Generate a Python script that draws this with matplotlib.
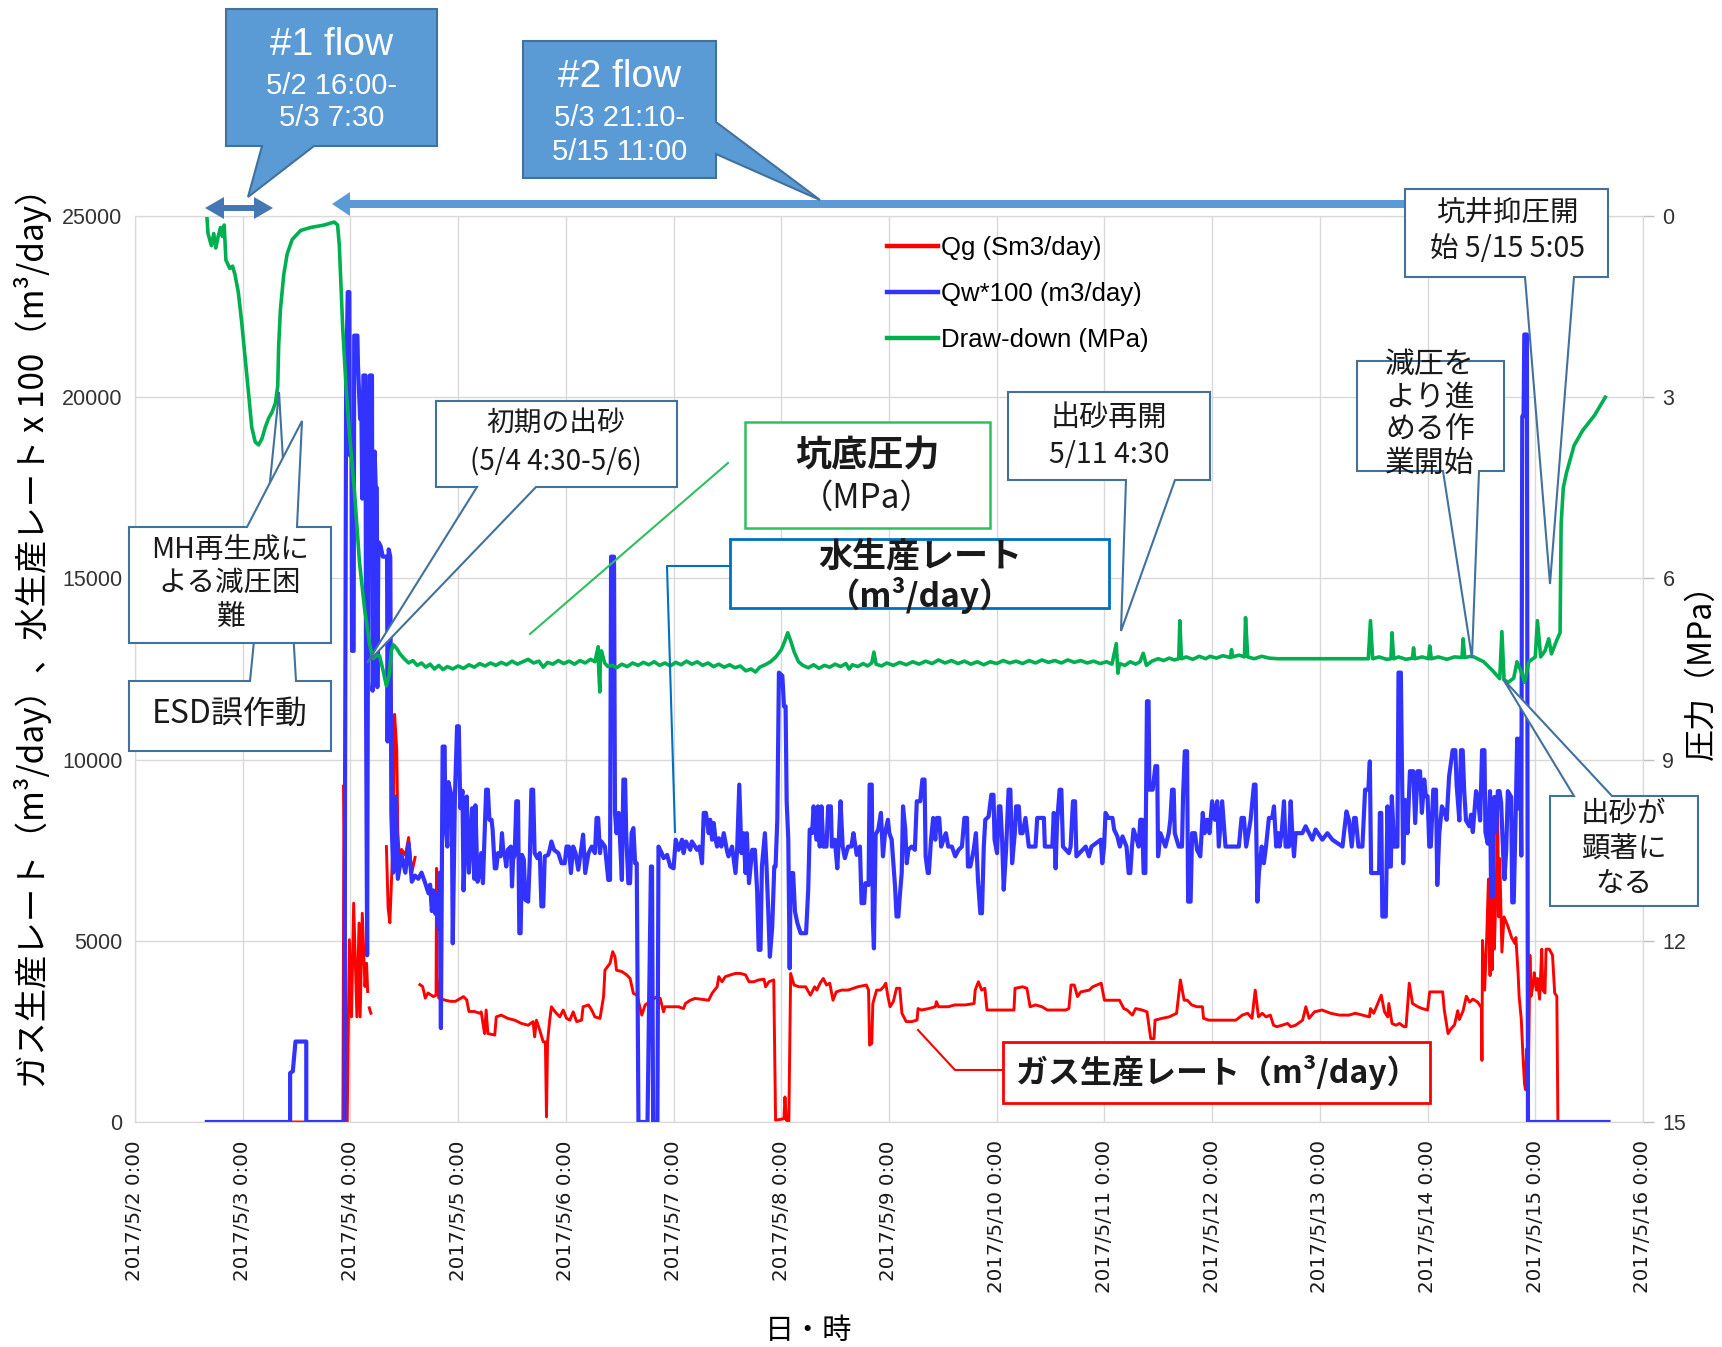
import numpy as np
import pandas as pd
import matplotlib
matplotlib.use('Agg')
import matplotlib.pyplot as plt
import matplotlib.dates as mdates
from matplotlib.patches import Polygon
from matplotlib.lines import Line2D
from matplotlib.font_manager import FontProperties

W, H = 1722, 1347
JP = ['Noto Sans CJK JP', 'DejaVu Sans']
LAT = ['Liberation Sans', 'DejaVu Sans']
plt.rcParams['font.family'] = ['Liberation Sans', 'Noto Sans CJK JP', 'DejaVu Sans']
nan = np.nan

start = pd.Timestamp('2017-05-02')

# (elapsed days from 2017/5/2 0:00, value); nan marks missing records
qg_pts = [
    (0.667, 0), (1.93, 0), (1.94, 9300), (1.95, 6500), (1.96, 0), (1.97, 0), (1.99, 5030),
    (2.01, 2900), (2.03, 6040), (2.06, 2900), (2.08, 5490), (2.09, 2900), (2.11, 5760),
    (2.135, 3740), (2.15, 4380), (2.16, 3600), (2.165, nan),
    (2.175, 3150), (2.19, 3000), (2.195, nan),
    (2.334, 7600), (2.35, 5900), (2.366, 5500), (2.38, 6550), (2.397, 7850), (2.41, 11250),
    (2.43, 10270), (2.44, 8000), (2.46, 7040), (2.475, 7520), (2.51, 7360), (2.54, 7850),
    (2.55, 7520), (2.57, 6880), (2.60, 7300), (2.61, nan),
    (2.645, 3790), (2.67, 3740), (2.695, 3420), (2.72, 3560), (2.77, 3460), (2.795, 3500),
    (2.80, 7000), (2.805, 4000), (2.82, 3420), (2.87, 3370), (2.925, 3330), (2.975, 3330),
    (3.05, 3460), (3.08, 3370), (3.10, 3050), (3.15, 3050), (3.20, 3000),
    (3.214, 3040), (3.245, 2440), (3.26, 3090), (3.276, 2440), (3.34, 2400), (3.354, 2900),
    (3.40, 2950), (3.46, 2860), (3.525, 2810), (3.587, 2720), (3.65, 2670), (3.696, 2770),
    (3.71, 2350), (3.727, 2810), (3.758, 2530), (3.79, 2210), (3.81, 2210), (3.82, 140),
    (3.83, 2210), (3.85, 2810), (3.866, 3180), (3.90, 3040), (3.944, 2900), (3.975, 3090),
    (4.006, 2860), (4.037, 2810), (4.068, 3040), (4.10, 2770), (4.146, 2810), (4.16, 3180),
    (4.21, 3230), (4.24, 3090), (4.27, 2900), (4.317, 2860), (4.35, 3460), (4.363, 4190),
    (4.41, 4380), (4.435, 4700), (4.456, 4560), (4.47, 4190), (4.52, 4150), (4.565, 4060),
    (4.596, 3960), (4.627, 3550), (4.66, 3500), (4.705, 2950), (4.736, 3230), (4.80, 3360),
    (4.845, 3460), (4.876, 3410), (4.907, 3040), (4.92, 3180), (5.047, 3180), (5.093, 3130),
    (5.11, 3270), (5.155, 3360), (5.20, 3410), (5.326, 3360), (5.357, 3550), (5.404, 3730),
    (5.42, 4010), (5.45, 3870), (5.48, 4010), (5.53, 4060), (5.575, 4100), (5.62, 4100),
    (5.668, 4060), (5.70, 3870), (5.745, 3870), (5.79, 3920), (5.84, 3940), (5.854, 3730),
    (5.885, 3870), (5.93, 3920), (5.947, 50), (6.025, 90), (6.034, 690), (6.047, 50),
    (6.07, 0), (6.087, 4100), (6.118, 3780), (6.165, 3730), (6.227, 3730), (6.27, 3500),
    (6.31, 3730), (6.33, 3640), (6.36, 3830), (6.39, 3960), (6.42, 3780), (6.45, 3830),
    (6.48, 3360), (6.51, 3590), (6.56, 3640), (6.62, 3640), (6.71, 3730), (6.79, 3780),
    (6.81, 3640), (6.82, 2120), (6.84, 2170), (6.85, 3270), (6.885, 3640), (6.92, 3640),
    (6.95, 3730), (6.97, 3830), (6.99, 3460), (7.01, 3180), (7.04, 3320), (7.07, 3690),
    (7.10, 3690), (7.12, 3000), (7.16, 2770), (7.21, 2770), (7.26, 2810), (7.27, 3130),
    (7.30, 3090), (7.37, 3130), (7.43, 3180), (7.44, 3320), (7.46, 3180), (7.55, 3180),
    (7.61, 3230), (7.71, 3230), (7.79, 3270), (7.80, 3640), (7.83, 3870), (7.86, 3640),
    (7.89, 3690), (7.91, 3090), (7.96, 3090), (8.05, 3090), (8.16, 3090), (8.17, 3690),
    (8.24, 3730), (8.28, 3690), (8.31, 3180), (8.36, 3230), (8.42, 3180), (8.47, 3090),
    (8.55, 3090), (8.64, 3090), (8.67, 3130), (8.69, 3780), (8.72, 3780), (8.75, 3460),
    (8.78, 3590), (8.86, 3640), (8.89, 3730), (8.93, 3780), (8.97, 3830), (9.00, 3360),
    (9.07, 3360), (9.14, 3360), (9.18, 3130), (9.21, 3090),
    (9.26, 2950), (9.29, 3130), (9.35, 3090), (9.395, 3040), (9.41, 2720), (9.43, 2300),
    (9.46, 2300), (9.47, 2810), (9.535, 2860), (9.60, 2900), (9.67, 3000), (9.705, 3920),
    (9.74, 3360), (9.77, 3360), (9.81, 3230), (9.86, 3180), (9.91, 3180), (9.92, 2860),
    (9.97, 2810), (10.06, 2810), (10.22, 2810), (10.28, 2950), (10.33, 3000), (10.37, 2860),
    (10.40, 3640), (10.43, 2900), (10.465, 3000), (10.50, 2900), (10.54, 2950), (10.57, 2670),
    (10.60, 2630), (10.65, 2670), (10.70, 2720), (10.73, 2630), (10.775, 2670), (10.84, 2810),
    (10.87, 3180), (10.90, 2860), (10.95, 3040), (11.02, 3090), (11.10, 3000), (11.18, 2950),
    (11.27, 2950), (11.33, 3000), (11.395, 2950), (11.46, 2900), (11.47, 3130), (11.50, 3000),
    (11.57, 3500), (11.60, 3040), (11.63, 2900), (11.64, 3270), (11.67, 2720), (11.705, 2670),
    (11.74, 2720), (11.78, 2630), (11.80, 2630), (11.83, 3830), (11.86, 3270), (11.91, 3180),
    (11.95, 3130), (12.0, 3090), (12.02, 3590), (12.08, 3590), (12.14, 3590), (12.155, 3090),
    (12.19, 2440), (12.22, 2580),
    (12.25, 2680), (12.28, 3070), (12.295, 2830), (12.33, 3070), (12.36, 3470), (12.39, 3310),
    (12.42, 3390), (12.465, 3310), (12.50, 3150), (12.505, 1700), (12.51, 5010), (12.53, 3640),
    (12.55, 5170), (12.565, 6700), (12.58, 4040), (12.59, 8800), (12.60, 4200), (12.61, 6540),
    (12.62, 4770), (12.64, 6870), (12.65, 8730), (12.66, 5660), (12.67, 7270), (12.69, 4690),
    (12.71, 5660), (12.745, 5410), (12.78, 5090), (12.81, 4930), (12.82, 5090), (12.84, 4120),
    (12.85, 3470), (12.87, 2830), (12.885, 1860), (12.90, 1050), (12.91, 890), (12.92, 2020),
    (12.935, 890), (12.95, 4600), (12.96, 3470), (12.98, 3800), (12.99, 4120), (13.01, 3640),
    (13.02, 3960), (13.04, 3390), (13.06, 4770), (13.07, 3640), (13.09, 3560), (13.10, 4770),
    (13.13, 4770), (13.16, 4600), (13.18, 3560), (13.20, 3470), (13.21, 0),
]

qw_pts = [
    (0.667, 0), (1.44, 0), (1.44, 1350), (1.465, 1400), (1.49, 2220), (1.59, 2220), (1.59, 0),
    (1.945, 0), (1.95, 9000), (1.96, 20300), (1.975, 22900), (1.99, 22900), (1.995, 18400),
    (2.01, 18400), (2.015, 13000), (2.03, 13000), (2.035, 21700), (2.065, 21700), (2.07, 20900),
    (2.09, 19400), (2.10, 20100), (2.11, 17200), (2.12, 20600), (2.14, 20600), (2.145, 11700),
    (2.155, 4600), (2.165, 16100), (2.18, 20600), (2.20, 20600), (2.205, 11900), (2.215, 12400),
    (2.225, 18500), (2.235, 17500), (2.245, 17500), (2.25, 12000), (2.26, 16000), (2.28, 15900),
    (2.30, 15600), (2.34, 15600), (2.345, 10500), (2.355, 15800), (2.37, 15600), (2.38, 8500),
    (2.397, 6880), (2.42, 8980), (2.44, 6710), (2.475, 7360), (2.51, 6880), (2.54, 7690),
    (2.57, 6630), (2.60, 6800), (2.63, 6710), (2.66, 6880), (2.69, 6630), (2.725, 6310),
    (2.74, 6550), (2.756, 5820), (2.77, 6390), (2.79, 5740), (2.80, 6310), (2.82, 5340),
    (2.83, 6880), (2.84, 2590), (2.856, 10360), (2.875, 10360), (2.88, 8330), (2.90, 7600),
    (2.91, 9380), (2.94, 8980), (2.95, 4930), (2.97, 8980), (2.99, 10920), (3.006, 10920),
    (3.02, 8660), (3.04, 9140), (3.05, 6390), (3.07, 8010), (3.08, 8980), (3.10, 6880),
    (3.13, 8660), (3.15, 6710), (3.16, 8740), (3.18, 6630), (3.20, 6880),
    (3.214, 7420), (3.23, 6590), (3.26, 9170), (3.276, 9170), (3.29, 8340), (3.31, 8340),
    (3.32, 8070), (3.34, 7000), (3.354, 7000), (3.37, 7420), (3.394, 7330), (3.407, 7970),
    (3.42, 7420), (3.43, 7420), (3.447, 7050), (3.46, 7510), (3.49, 7600), (3.50, 6500),
    (3.51, 7240), (3.525, 7370), (3.54, 8850), (3.556, 8850), (3.568, 5210), (3.58, 5210),
    (3.593, 7370), (3.61, 7240), (3.624, 6130), (3.65, 6080), (3.665, 7240), (3.68, 9170),
    (3.696, 9170), (3.71, 7420), (3.736, 7280), (3.758, 7420), (3.773, 5950), (3.79, 5950),
    (3.804, 7330), (3.835, 7370), (3.85, 7510), (3.866, 7740), (3.89, 7510), (3.93, 7420),
    (3.96, 7140), (3.99, 7140), (4.006, 7600), (4.028, 7600), (4.047, 6870), (4.068, 7600),
    (4.09, 7420), (4.115, 6960), (4.146, 7600), (4.16, 7930), (4.18, 6870), (4.21, 7420),
    (4.24, 7600), (4.27, 7420), (4.285, 8390), (4.30, 8390), (4.317, 7420), (4.33, 7740),
    (4.363, 7600), (4.394, 6680), (4.41, 6680), (4.42, 15600), (4.447, 15600), (4.456, 8530),
    (4.47, 7970), (4.49, 8530), (4.50, 7970), (4.52, 6680), (4.534, 9450), (4.55, 9450),
    (4.56, 7970), (4.58, 6590), (4.596, 6590), (4.61, 7970), (4.627, 8110), (4.643, 7140),
    (4.658, 7140), (4.674, 0), (4.758, 0), (4.79, 7050), (4.80, 7050), (4.81, 0), (4.85, 0),
    (4.86, 7600), (4.89, 7420), (4.907, 7280), (4.94, 7370), (4.97, 7050), (5.0, 7000),
    (5.02, 7790), (5.047, 7510), (5.078, 7790), (5.093, 7420), (5.115, 7740), (5.14, 7600),
    (5.155, 7510), (5.17, 7740), (5.20, 7600), (5.217, 7510), (5.24, 7600), (5.264, 7140),
    (5.28, 8530), (5.30, 8530), (5.326, 7970), (5.34, 8340), (5.357, 7790), (5.373, 8250),
    (5.39, 7790), (5.404, 7600), (5.42, 7830), (5.444, 7600), (5.466, 7970), (5.497, 7470),
    (5.51, 7330), (5.543, 7600), (5.575, 6870), (5.59, 7510), (5.61, 9310), (5.63, 7420),
    (5.65, 7970), (5.668, 6870), (5.68, 7970), (5.70, 6590), (5.73, 7510), (5.755, 7510),
    (5.776, 6360), (5.79, 4750), (5.807, 4750), (5.82, 7050), (5.848, 7970), (5.863, 7050),
    (5.88, 5760), (5.894, 4560), (5.916, 5390), (5.935, 7050), (5.947, 7050), (5.963, 8340),
    (5.978, 12400), (6.01, 12310), (6.025, 11470), (6.04, 11470), (6.05, 8850), (6.065, 7790),
    (6.078, 4240), (6.087, 6870), (6.11, 6870), (6.127, 5810), (6.15, 5480), (6.18, 5210),
    (6.23, 5210), (6.25, 6410), (6.264, 8070), (6.286, 7970), (6.30, 8710), (6.326, 7790),
    (6.34, 8710), (6.357, 7600), (6.373, 8710), (6.39, 7600), (6.42, 7600), (6.435, 8710),
    (6.46, 8710), (6.47, 7600), (6.497, 7790), (6.52, 7000), (6.534, 7790), (6.55, 8850),
    (6.57, 7600), (6.59, 7280), (6.62, 7600), (6.65, 7600), (6.67, 7970), (6.70, 7370),
    (6.73, 7600), (6.745, 6040), (6.77, 6040), (6.78, 6590), (6.81, 6540), (6.82, 9310),
    (6.84, 9310), (6.85, 5580), (6.86, 4790), (6.876, 7930), (6.90, 8070), (6.925, 8530),
    (6.944, 7330), (6.963, 7970), (6.99, 8340), (7.003, 7970), (7.025, 7790), (7.056, 6500),
    (7.07, 5670), (7.087, 5670), (7.10, 6220), (7.118, 6870), (7.13, 8710), (7.15, 8110),
    (7.165, 7140), (7.18, 7510), (7.21, 7600), (7.24, 7510), (7.258, 8850), (7.29, 8850),
    (7.31, 9450), (7.33, 9450), (7.34, 7330), (7.36, 6870), (7.37, 6870), (7.39, 7790),
    (7.41, 8390), (7.43, 7790), (7.444, 8390), (7.466, 8390), (7.484, 7600), (7.506, 7790),
    (7.528, 7970), (7.55, 7600), (7.584, 7600), (7.615, 7330), (7.646, 7510), (7.677, 7600),
    (7.70, 8390), (7.724, 8390), (7.733, 7050), (7.755, 7050), (7.786, 7510), (7.807, 7970),
    (7.826, 6680), (7.848, 5760), (7.863, 5760), (7.88, 7600), (7.894, 8340), (7.925, 8430),
    (7.95, 9030), (7.97, 9030), (7.98, 7790), (8.003, 7420), (8.02, 8710), (8.034, 8710),
    (8.05, 7790), (8.065, 6410), (8.087, 7510), (8.11, 9170), (8.127, 9170), (8.143, 7140),
    (8.168, 7970), (8.18, 8710), (8.205, 8710), (8.22, 7970), (8.24, 7970), (8.267, 8390),
    (8.298, 7600), (8.36, 7600), (8.376, 8390), (8.438, 8390), (8.447, 7600), (8.516, 7600),
    (8.53, 8530), (8.547, 7000), (8.56, 8250), (8.584, 9170), (8.60, 9170), (8.615, 7600),
    (8.67, 7420), (8.686, 7600), (8.708, 8850), (8.727, 8850), (8.74, 7330), (8.826, 7600),
    (8.857, 7330), (8.88, 7600), (8.966, 7790), (8.98, 7140), (8.997, 7600), (9.01, 8530),
    (9.037, 8390), (9.075, 8390), (9.09, 8070), (9.12, 7880), (9.143, 7600), (9.168, 7880),
    (9.205, 7600), (9.225, 6870), (9.24, 6870), (9.256, 7600), (9.27, 8070), (9.30, 7790),
    (9.318, 7600), (9.333, 8340), (9.35, 8340), (9.364, 6870), (9.38, 6870), (9.395, 11610),
    (9.41, 11610), (9.417, 9170), (9.448, 9170), (9.473, 9820), (9.49, 9820), (9.498, 7330),
    (9.52, 7970), (9.566, 7600), (9.597, 7970), (9.612, 8340), (9.628, 9170), (9.643, 9170),
    (9.653, 7970), (9.69, 7600), (9.72, 7600), (9.73, 8990), (9.746, 10230), (9.767, 10230),
    (9.777, 6080), (9.80, 6080), (9.814, 7970), (9.84, 7970), (9.86, 7510), (9.89, 7330),
    (9.913, 8530), (9.93, 7970), (9.953, 8340), (9.975, 7970), (10.0, 8850), (10.025, 8340),
    (10.047, 8850), (10.062, 7600), (10.093, 8850), (10.124, 7600), (10.248, 7600),
    (10.273, 8390), (10.295, 8390), (10.316, 7600), (10.357, 8340), (10.388, 9310),
    (10.403, 9310), (10.42, 6080), (10.434, 6870), (10.46, 7600), (10.48, 7140), (10.50, 7600),
    (10.527, 8390), (10.558, 8390), (10.574, 8710), (10.595, 7600), (10.614, 7970),
    (10.626, 7600), (10.645, 7970), (10.667, 8850), (10.682, 7600), (10.713, 7600),
    (10.729, 8850), (10.744, 7970), (10.76, 7330), (10.775, 7970), (10.837, 7970),
    (10.868, 8160), (10.90, 7970), (10.93, 7790), (10.96, 8070), (11.023, 7790), (11.07, 7970),
    (11.116, 7790), (11.21, 7600), (11.247, 8570), (11.27, 8340), (11.296, 7600),
    (11.318, 8390), (11.333, 8390), (11.358, 7600), (11.395, 7600), (11.42, 9170),
    (11.45, 9170), (11.464, 9950), (11.476, 6870), (11.55, 6870), (11.557, 8530),
    (11.57, 8530), (11.58, 5670), (11.612, 5670), (11.628, 8710), (11.643, 7050),
    (11.659, 7050), (11.668, 8990), (11.69, 7600), (11.72, 7600), (11.73, 12400),
    (11.752, 12400), (11.76, 10280), (11.774, 7140), (11.79, 8890), (11.814, 7970),
    (11.836, 9680), (11.867, 9680), (11.885, 8250), (11.907, 9680), (11.93, 9680),
    (11.947, 8530), (11.969, 9450), (11.984, 8990), (12.0, 8990), (12.016, 7600),
    (12.03, 7600), (12.053, 9170), (12.078, 9170), (12.09, 6540), (12.109, 7970),
    (12.133, 8710), (12.155, 8570), (12.177, 8340), (12.20, 9540),
    (12.233, 10260), (12.258, 10260), (12.27, 9290), (12.295, 8320), (12.31, 10260),
    (12.326, 10260), (12.34, 9130), (12.357, 8320), (12.388, 8160), (12.404, 8480),
    (12.42, 8000), (12.45, 9130), (12.466, 8970), (12.488, 8320), (12.506, 10260),
    (12.528, 10260), (12.537, 8000), (12.559, 7680), (12.58, 9130), (12.59, 6220),
    (12.606, 6220), (12.62, 8970), (12.637, 8000), (12.652, 9130), (12.668, 9130),
    (12.683, 8810), (12.70, 7510), (12.714, 6700), (12.73, 7510), (12.745, 9130),
    (12.776, 8970), (12.786, 6060), (12.80, 6060), (12.817, 8320), (12.832, 10580),
    (12.848, 8650), (12.86, 10580), (12.87, 7350), (12.879, 19470), (12.891, 19470),
    (12.898, 21730), (12.922, 21730), (12.932, 0), (13.68, 0),
]

# draw-down (MPa), plotted against the inverted right axis
dd_pts = [
    (0.667, 0.0), (0.678, 0.29), (0.709, 0.49), (0.731, 0.29), (0.75, 0.53), (0.772, 0.34),
    (0.794, 0.19), (0.8125, 0.34), (0.828, 0.15), (0.844, 0.73), (0.881, 0.87), (0.906, 0.83),
    (0.928, 0.97), (0.959, 1.26), (0.99, 1.75), (1.022, 2.33), (1.053, 2.91), (1.084, 3.5),
    (1.116, 3.74), (1.147, 3.79), (1.178, 3.69), (1.209, 3.5), (1.24, 3.35), (1.272, 3.25),
    (1.303, 3.1), (1.325, 2.82), (1.334, 2.14), (1.35, 1.55), (1.381, 0.97), (1.4125, 0.63),
    (1.459, 0.39), (1.5375, 0.24), (1.631, 0.19), (1.756, 0.15), (1.85, 0.10), (1.881, 0.15),
    (1.897, 0.49), (1.928, 1.84), (1.959, 2.82), (1.99, 3.59), (2.0375, 4.56), (2.084, 5.73),
    (2.131, 6.5), (2.178, 7.09), (2.209, 7.33), (2.24, 7.28), (2.27, 7.28), (2.30, 7.5),
    (2.334, 7.78), (2.36, 7.6), (2.38, 7.19), (2.40, 7.10), (2.43, 7.16), (2.46, 7.25),
    (2.50, 7.33), (2.54, 7.40), (2.58, 7.36), (2.62, 7.44), (2.66, 7.40), (2.70, 7.47),
    (2.74, 7.42), (2.78, 7.50), (2.82, 7.44), (2.86, 7.51), (2.90, 7.46), (2.95, 7.50),
    (3.0, 7.45), (3.05, 7.49), (3.10, 7.43), (3.15, 7.47), (3.20, 7.41), (3.25, 7.45),
    (3.30, 7.40), (3.35, 7.44), (3.40, 7.39), (3.45, 7.43), (3.50, 7.37), (3.55, 7.42),
    (3.60, 7.38), (3.65, 7.34), (3.70, 7.40), (3.75, 7.37), (3.79, 7.47), (3.83, 7.39),
    (3.88, 7.42), (3.93, 7.36), (3.98, 7.41), (4.03, 7.37), (4.08, 7.42), (4.13, 7.36),
    (4.18, 7.40), (4.23, 7.34), (4.27, 7.38), (4.30, 7.13), (4.305, 7.50), (4.315, 7.88),
    (4.32, 7.30), (4.33, 7.20), (4.36, 7.40), (4.39, 7.46), (4.43, 7.44), (4.47, 7.48),
    (4.52, 7.42), (4.57, 7.46), (4.62, 7.40), (4.67, 7.44), (4.72, 7.39), (4.77, 7.43),
    (4.82, 7.38), (4.87, 7.44), (4.92, 7.40), (4.97, 7.45), (5.02, 7.39), (5.07, 7.43),
    (5.12, 7.37), (5.17, 7.42), (5.22, 7.38), (5.27, 7.44), (5.32, 7.40), (5.37, 7.46),
    (5.42, 7.42), (5.47, 7.47), (5.52, 7.43), (5.57, 7.48), (5.62, 7.45), (5.67, 7.53),
    (5.72, 7.50), (5.76, 7.55), (5.80, 7.47), (5.85, 7.43), (5.90, 7.38), (5.95, 7.30),
    (6.0, 7.18), (6.03, 7.05), (6.06, 6.90), (6.09, 7.05), (6.12, 7.22), (6.16, 7.38),
    (6.20, 7.44), (6.25, 7.48), (6.30, 7.43), (6.35, 7.49), (6.40, 7.44), (6.45, 7.47),
    (6.50, 7.42), (6.55, 7.46), (6.60, 7.41), (6.63, 7.50), (6.66, 7.43), (6.71, 7.46),
    (6.76, 7.41), (6.80, 7.45), (6.84, 7.40), (6.86, 7.22), (6.88, 7.42), (6.93, 7.45),
    (6.98, 7.40), (7.04, 7.44), (7.10, 7.39), (7.16, 7.43), (7.22, 7.38), (7.28, 7.42),
    (7.34, 7.37), (7.40, 7.41), (7.46, 7.35), (7.52, 7.40), (7.58, 7.36), (7.64, 7.41),
    (7.70, 7.37), (7.76, 7.42), (7.82, 7.38), (7.88, 7.43), (7.94, 7.38), (8.00, 7.41),
    (8.06, 7.36), (8.12, 7.40), (8.18, 7.37), (8.24, 7.41), (8.30, 7.36), (8.36, 7.40),
    (8.42, 7.35), (8.48, 7.39), (8.54, 7.36), (8.60, 7.40), (8.66, 7.35), (8.72, 7.39),
    (8.78, 7.36), (8.84, 7.40), (8.90, 7.37), (8.96, 7.41), (9.02, 7.38), (9.07, 7.42),
    (9.11, 7.08), (9.125, 7.57), (9.14, 7.41), (9.19, 7.44), (9.24, 7.38), (9.29, 7.42),
    (9.33, 7.38), (9.36, 7.24), (9.39, 7.44), (9.44, 7.37), (9.50, 7.33), (9.55, 7.36),
    (9.60, 7.32), (9.65, 7.35), (9.69, 7.33), (9.70, 6.70), (9.715, 7.33), (9.76, 7.30),
    (9.82, 7.34), (9.88, 7.29), (9.94, 7.33), (9.98, 7.29), (10.04, 7.32), (10.10, 7.28),
    (10.17, 7.31), (10.18, 7.18), (10.19, 7.30), (10.25, 7.27), (10.30, 7.30), (10.31, 6.65),
    (10.33, 7.30), (10.39, 7.33), (10.46, 7.29), (10.53, 7.32), (10.61, 7.33), (11.45, 7.33),
    (11.47, 6.70), (11.49, 7.33), (11.55, 7.30), (11.62, 7.34), (11.66, 7.33), (11.67, 6.90),
    (11.685, 7.33), (11.73, 7.30), (11.80, 7.34), (11.86, 7.32), (11.87, 7.15), (11.88, 7.33),
    (11.95, 7.30), (12.01, 7.33), (12.02, 7.12), (12.035, 7.33), (12.10, 7.30), (12.18, 7.34),
    (12.25, 7.30), (12.32, 7.31), (12.33, 7.00), (12.345, 7.31), (12.40, 7.29), (12.43, 7.30),
    (12.52, 7.38), (12.60, 7.52), (12.67, 7.66), (12.69, 6.88), (12.71, 7.68), (12.75, 7.72),
    (12.80, 7.65), (12.83, 7.38), (12.87, 7.55), (12.90, 7.72), (12.94, 7.38), (13.00, 7.3),
    (13.02, 6.7), (13.05, 7.3), (13.09, 7.2), (13.125, 7.0), (13.15, 7.25), (13.20, 7.02),
    (13.23, 6.9), (13.24, 5.1), (13.26, 4.5), (13.29, 4.25), (13.36, 3.8), (13.44, 3.55),
    (13.55, 3.3), (13.65, 3.0),
]

day_ticks = pd.date_range('2017-05-02', '2017-05-16', freq='D')
legend_labels = ['Qg (Sm3/day)', 'Qw*100 (m3/day)', 'Draw-down (MPa)']
colors = {'qg': '#FF0000', 'qw': '#3333FF', 'dd': '#00B050'}


def series(pts):
    d, v = zip(*pts)
    return start + pd.to_timedelta(np.array(d), unit='D'), np.array(v, dtype=float)


def fxy(x, y):
    return (x / W, 1 - y / H)


fig = plt.figure(figsize=(W / 100, H / 100), dpi=100)
ax = fig.add_axes([135 / W, 1 - 1122 / H, 1508 / W, 906 / H])
ax2 = ax.twinx()

t, v = series(qg_pts)
ax.plot(t, v, color=colors['qg'], lw=2.1, zorder=2)
t, v = series(qw_pts)
ax.plot(t, v, color=colors['qw'], lw=3.0, zorder=3)
t, v = series(dd_pts)
ax2.plot(t, v, color=colors['dd'], lw=2.6)

ax.set_xlim(day_ticks[0], day_ticks[-1])
ax.set_ylim(0, 25000)
ax.set_yticks(np.arange(0, 25001, 5000))
ax2.set_ylim(15, 0)
ax2.set_yticks(np.arange(0, 16, 3))
ax.set_xticks(day_ticks)
ax.xaxis.set_major_formatter(mdates.DateFormatter('%Y/%-m/%-d %-H:%M'))
ax.grid(True, color='#D9D9D9', lw=1)
ax.set_axisbelow(True)

for a in (ax, ax2):
    for s in a.spines.values():
        s.set_color('#D9D9D9')
ax.spines['bottom'].set_color('#BFBFBF')

ax.tick_params(axis='x', length=0, pad=13, labelsize=14.3, labelrotation=90,
               labelcolor='#1a1a1a', labelfontfamily='DejaVu Sans')
ax.tick_params(axis='y', length=0, pad=9, labelsize=15.5, labelcolor='#333333',
               labelfontfamily='Liberation Sans')
ax2.tick_params(axis='y', length=8, width=1, color='#BFBFBF', pad=6, labelsize=15.5,
                labelcolor='#333333', labelfontfamily='Liberation Sans')

# axis titles
fig.text(*fxy(33, 630), 'ガス生産レート（m³/day）、水生産レート x 100（m³/day）', rotation=90,
         ha='center', va='center', fontsize=24, family=JP)
fig.text(*fxy(1702, 664), '圧力（MPa）', rotation=90, ha='center', va='center',
         fontsize=23, family=JP)
fig.text(*fxy(809, 1331), '日・時', ha='center', va='center', fontsize=21, family=JP)

handles = [Line2D([], [], color=colors[k], lw=3.2) for k in ('qg', 'qw', 'dd')]
fig.legend(handles, legend_labels, loc='upper left', bbox_to_anchor=fxy(887, 236),
           bbox_transform=fig.transFigure, frameon=False,
           prop=FontProperties(family=LAT, size=18.5), handlelength=2.0,
           handletextpad=0.12, labelspacing=0.85, borderpad=0, borderaxespad=0)


def shape(pts, fc='white', ec='#41719C', lw=1.5, z=5):
    fig.patches.append(Polygon([fxy(x, y) for x, y in pts], closed=True,
                               transform=fig.transFigure, fc=fc, ec=ec, lw=lw, zorder=z))


def note(x, y, s, size=21, **kw):
    kw.setdefault('family', JP)
    kw.setdefault('color', '#1a1a1a')
    fig.text(*fxy(x, y), s, ha='center', va='center', fontsize=size, zorder=10, **kw)


def path(pts, color, lw=1.5):
    xs, ys = zip(*[fxy(x, y) for x, y in pts])
    fig.lines.append(Line2D(xs, ys, transform=fig.transFigure, color=color, lw=lw, zorder=6))


# flow period arrows
shape([(1404, 200), (350, 200), (350, 192), (332, 204), (350, 216), (350, 208), (1404, 208)],
      fc='#5B9BD5', ec='none', lw=0, z=4)
shape([(205, 208), (224, 197), (224, 205), (254, 205), (254, 197), (273, 208), (254, 219),
       (254, 211), (224, 211), (224, 219)], fc='#4677B5', ec='none', lw=0, z=4)

# flow callouts
shape([(226, 9), (437, 9), (437, 146), (314, 146), (248, 197), (262, 146), (226, 146)],
      fc='#5B9BD5')
note(332, 45, '#1 flow', 28, color='white', family=LAT)
note(332, 86, '5/2 16:00-', 21, color='white', family=LAT)
note(332, 118, '5/3 7:30', 21, color='white', family=LAT)
shape([(523, 41), (716, 41), (716, 122), (820, 200), (716, 154), (716, 178), (523, 178)],
      fc='#5B9BD5')
note(620, 77, '#2 flow', 28, color='white', family=LAT)
note(620, 118, '5/3 21:10-', 21, color='white', family=LAT)
note(620, 152, '5/15 11:00', 21, color='white', family=LAT)

# event callouts
shape([(1405, 189), (1608, 189), (1608, 277), (1574, 277), (1550, 584), (1525, 277), (1405, 277)])
note(1507, 213, '坑井抑圧開', 20.5)
note(1507, 249, '始 5/15 5:05', 20.5)
shape([(1357, 361), (1504, 361), (1504, 471), (1479, 471), (1472, 658), (1443, 471), (1357, 471)])
for y, s in zip([364, 397, 430, 463], ['減圧を', 'より進', 'める作', '業開始']):
    note(1430, y, s, 21.5)
shape([(1550, 796), (1574, 796), (1503, 679), (1612, 796), (1698, 796), (1698, 906), (1550, 906)])
for y, s in zip([814, 849, 884], ['出砂が', '顕著に', 'なる']):
    note(1624, y, s, 20.5)
shape([(1008, 392), (1210, 392), (1210, 480), (1175, 480), (1121, 631), (1126, 480), (1008, 480)])
note(1109, 418, '出砂再開', 21)
note(1109, 455, '5/11 4:30', 20.5)
shape([(436, 401), (677, 401), (677, 487), (536, 487), (367, 663), (477, 487), (436, 487)])
note(556, 423, '初期の出砂', 20)
note(556, 462, '(5/4 4:30-5/6)', 20)
shape([(129, 681), (250, 681), (279, 392), (296, 681), (331, 681), (331, 751), (129, 751)], z=5)
note(230, 714, 'ESD誤作動', 23)
shape([(129, 527), (247, 527), (302, 421), (297, 527), (331, 527), (331, 643), (129, 643)], z=5.5)
for y, s in zip([550, 583, 617], ['MH再生成に', 'よる減圧困', '難']):
    note(230, y, s, 20.5)

# series labels
shape([(745, 422), (990, 422), (990, 528), (745, 528)], ec='#2EBF5E', lw=1.8)
path([(728, 463), (530, 634)], '#2EBF5E')
note(867, 456, '坑底圧力', 26, weight='bold')
note(867, 498, '（MPa）', 24)
shape([(730, 539), (1109, 539), (1109, 608), (730, 608)], ec='#0070C0', lw=2)
path([(730, 566), (667, 566), (675, 832)], '#0070C0')
note(920, 556, '水生産レート', 24.5, weight='bold')
note(920, 595, '（m³/day）', 24, weight='bold')
shape([(1003, 1042), (1430, 1042), (1430, 1103), (1003, 1103)], ec='#FF0000', lw=2)
path([(1003, 1070), (955, 1070), (918, 1030)], '#FF0000')
note(1217, 1073, 'ガス生産レート（m³/day）', 23, weight='bold')

fig.savefig('out.png', dpi=100)
